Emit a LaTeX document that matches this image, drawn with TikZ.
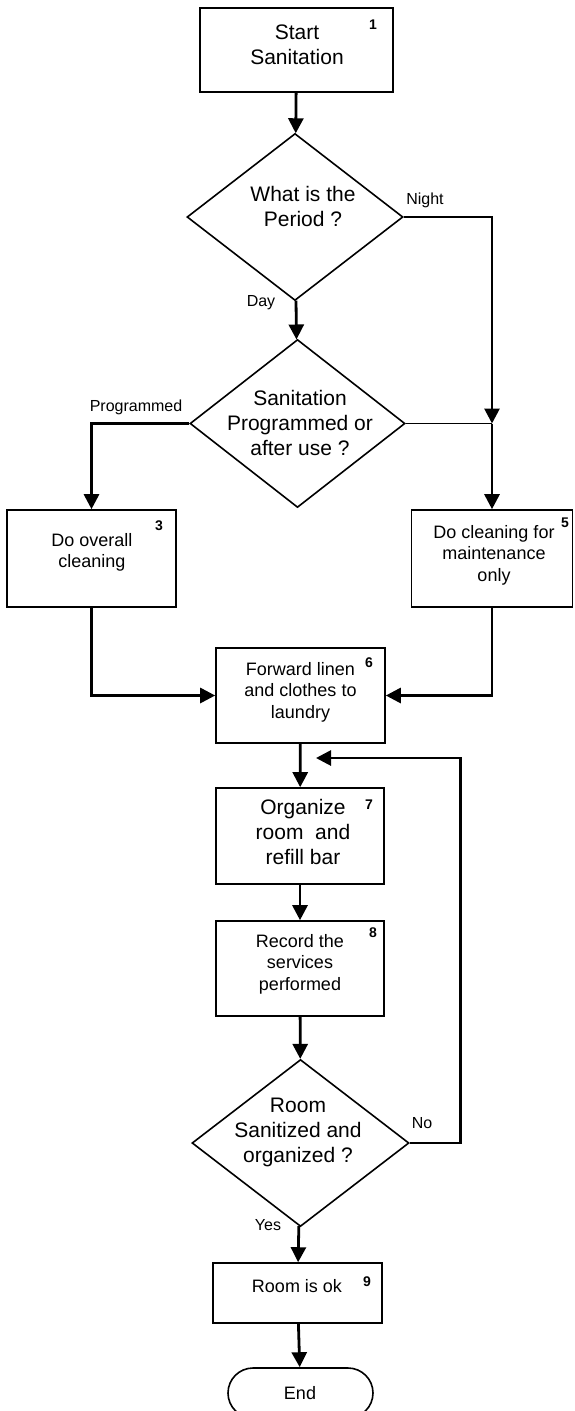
\documentclass[tikz,border=0pt]{standalone}
\usepackage{fontspec}
\setmainfont{Liberation Sans}
\usetikzlibrary{shapes.geometric,arrows.meta}

\tikzstyle{procbox}=[draw, line width=1.6pt, inner sep=0pt]
\tikzstyle{decision}=[draw, diamond, line width=1.6pt, inner sep=0pt]
\tikzstyle{endbox}=[draw, line width=1.6pt, rounded corners=25pt, inner sep=0pt]
\tikzstyle{bigtxt}=[align=center, font=\fontsize{21}{25}\selectfont]
\tikzstyle{smalltxt}=[align=center, font=\fontsize{18}{21.5}\selectfont]
\tikzstyle{numtxt}=[font=\fontsize{14}{14}\bfseries\selectfont]
\tikzstyle{tagtxt}=[font=\fontsize{16}{16}\selectfont]
\tikzstyle{arrow}=[line width=2.8pt, -{Triangle[length=15pt,width=15pt]}]
\tikzstyle{plainline}=[line width=1.6pt]

\begin{document}
\begin{tikzpicture}[x=1pt, y=-1pt]
      \useasboundingbox (0,0) rectangle (574,1411);

      % frames
      \node[procbox, minimum width=193pt, minimum height=84pt] (start) at (296.5,50) {};
      \node[decision, minimum width=216pt, minimum height=167pt] (period) at (295,217) {};
      \node[decision, minimum width=215pt, minimum height=168pt] (prog) at (297.5,423.5) {};
      \node[procbox, minimum width=169pt, minimum height=97pt] (overall) at (91.5,558.5) {};
      \node[procbox, minimum width=161pt, minimum height=97pt] (maint) at (492,558.5) {};
      \node[procbox, minimum width=169pt, minimum height=95pt] (linen) at (300.5,695.5) {};
      \node[procbox, minimum width=168pt, minimum height=96pt] (organize) at (300,836) {};
      \node[procbox, minimum width=168pt, minimum height=95pt] (record) at (300,968.5) {};
      \node[decision, minimum width=217pt, minimum height=167pt] (check) at (300.5,1143) {};
      \node[procbox, minimum width=169pt, minimum height=60pt] (roomok) at (297.5,1293) {};
      \node[endbox, minimum width=145pt, minimum height=50pt] (end) at (300.5,1393) {};

      % texts
      \node[bigtxt] (tstart) at (297,45) {Start\\Sanitation};
      \node[bigtxt] (tperiod) at (303,206.5) {What is the\\Period ?};
      \node[bigtxt] (tprog) at (300,422.5) {Sanitation\\Programmed or\\after use ?};
      \node[smalltxt] (toverall) at (92,552.5) {Do overall\\cleaning};
      \node[smalltxt] (tmaint) at (494,555) {Do cleaning for\\maintenance\\only};
      \node[smalltxt] (tlinen) at (300.5,692) {Forward linen\\and clothes to\\laundry};
      \node[bigtxt] (torganize) at (303,831.5) {Organize\\room\ \ and\\refill bar};
      \node[smalltxt] (trecord) at (300,964) {Record the\\services\\performed};
      \node[bigtxt] (tcheck) at (298,1132.5) {Room\\Sanitized and\\organized ?};
      \node[smalltxt] (troomok) at (297,1286) {Room is ok};
      \node[smalltxt] (tend) at (300,1393) {End};

      % step numbers
      \node[numtxt] (n1) at (373,25) {1};
      \node[numtxt] (n3) at (159,526) {3};
      \node[numtxt] (n5) at (565,523) {5};
      \node[numtxt] (n6) at (369,663) {6};
      \node[numtxt] (n7) at (369,805) {7};
      \node[numtxt] (n8) at (373,933) {8};
      \node[numtxt] (n9) at (367,1282) {9};

      % branch labels
      \node[tagtxt] (night) at (425,200) {Night};
      \node[tagtxt] (day) at (261,303) {Day};
      \node[tagtxt] (programmed) at (136,407) {Programmed};
      \node[tagtxt] (no) at (422,1123) {No};
      \node[tagtxt] (yes) at (268,1225) {Yes};

      \coordinate (join) at (492,423.5);
      \coordinate (back) at (316,758);

      \draw[arrow] (start) to (period);
      \draw[arrow] (period) to (prog);
      \draw[arrow] (period.east) -| (join);
      \draw[plainline] (prog.east) to (join);
      \draw[arrow] (join) to (maint.north);
      \draw[arrow] (prog.west) -| (overall.north);
      \draw[arrow] (overall.south) |- (linen.west);
      \draw[arrow] (maint.south) |- (linen.east);
      \draw[arrow] (linen) to (organize);
      \draw[arrow] (organize) to (record);
      \draw[arrow] (record) to (check);
      \draw[arrow] (check.east) -- ++(51,0) |- (back);
      \draw[arrow] (check) to (roomok);
      \draw[arrow] (roomok) to (end);
    \end{tikzpicture}
\end{document}
